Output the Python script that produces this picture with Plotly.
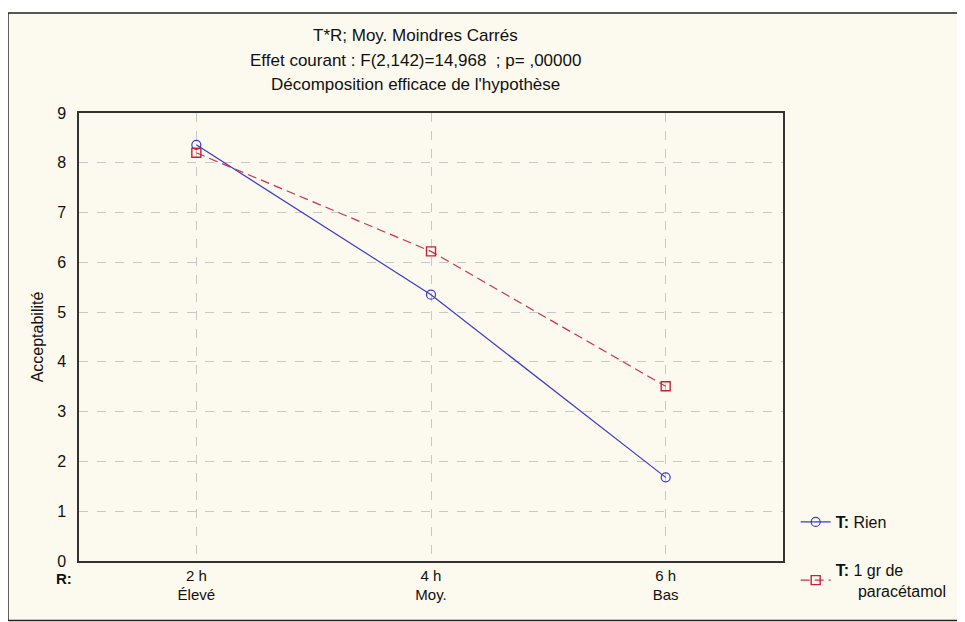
import plotly.graph_objects as go

categories = ["2 h<br>Élevé", "4 h<br>Moy.", "6 h<br>Bas"]
rien = [8.36, 5.35, 1.68]
paracetamol = [8.20, 6.22, 3.51]
y_ticks = [0, 1, 2, 3, 4, 5, 6, 7, 8, 9]

x = [0, 1, 2]
font = "Liberation Sans, Arial, sans-serif"

fig = go.Figure()
fig.add_trace(go.Scatter(
    x=x, y=rien, mode="lines+markers", name="<b>T:</b> Rien", legendgroup="a",
    line=dict(color="#3b3bd0", width=1.2),
    marker=dict(symbol="circle-open", size=9, color="#3b3bd0", line=dict(width=1.2)),
))
fig.add_trace(go.Scatter(
    x=x, y=paracetamol, mode="lines+markers", name="<b>T:</b> 1 gr de<br>     paracétamol",
    legendgroup="b",
    line=dict(color="#d0304a", width=1.2, dash="9px,5px"),
    marker=dict(symbol="square-open", size=9, color="#c8203c", line=dict(width=1.4)),
))

fig.update_layout(
    width=957, height=614,
    margin=dict(l=71, r=182, t=105, b=61),
    paper_bgcolor="white",
    plot_bgcolor="white",
    font=dict(family=font, size=14, color="#111111"),
    showlegend=True,
    legend=dict(x=1.018, xanchor="left", y=0.125, yanchor="top",
                bgcolor="rgba(0,0,0,0)", font=dict(size=16),
                tracegroupgap=24, itemwidth=30),
    xaxis=dict(range=[-0.5, 2.5], tickvals=x, ticktext=categories,
               showgrid=True, gridcolor="#c8c8c8", griddash="dash", gridwidth=1,
               showline=True, linecolor="#333333", linewidth=1.5, mirror=True,
               zeroline=False, ticks="", tickfont=dict(size=15)),
    yaxis=dict(range=[0, 9], tickvals=y_ticks,
               showgrid=True, gridcolor="#c8c8c8", griddash="dash", gridwidth=1,
               showline=True, linecolor="#333333", linewidth=1.5, mirror=True,
               zeroline=False, ticks="", ticklabelstandoff=8, tickfont=dict(size=16),
               title=dict(text="Acceptabilité", font=dict(size=16), standoff=10)),
    shapes=[dict(type="rect", xref="paper", yref="paper",
                 x0=-0.1009, x1=1.27, y0=-0.133, y1=1.2232,
                 fillcolor="#fcf9ee", line=dict(color="#222222", width=1.5),
                 layer="below")],
    annotations=[
        dict(text="T*R; Moy. Moindres Carrés", x=0.478, y=1.172, xref="paper", yref="paper",
             showarrow=False, font=dict(size=17), yanchor="middle"),
        dict(text="Effet courant : F(2,142)=14,968  ; p= ,00000", x=0.478, y=1.118, xref="paper", yref="paper",
             showarrow=False, font=dict(size=17), yanchor="middle"),
        dict(text="Décomposition efficace de l'hypothèse", x=0.478, y=1.064, xref="paper", yref="paper",
             showarrow=False, font=dict(size=17), yanchor="middle"),
        dict(text="<b>R:</b>", x=-0.035, y=-0.04, xref="paper", yref="paper",
             showarrow=False, font=dict(size=15), yanchor="middle"),
    ],
)

fig.write_html("out.html")
